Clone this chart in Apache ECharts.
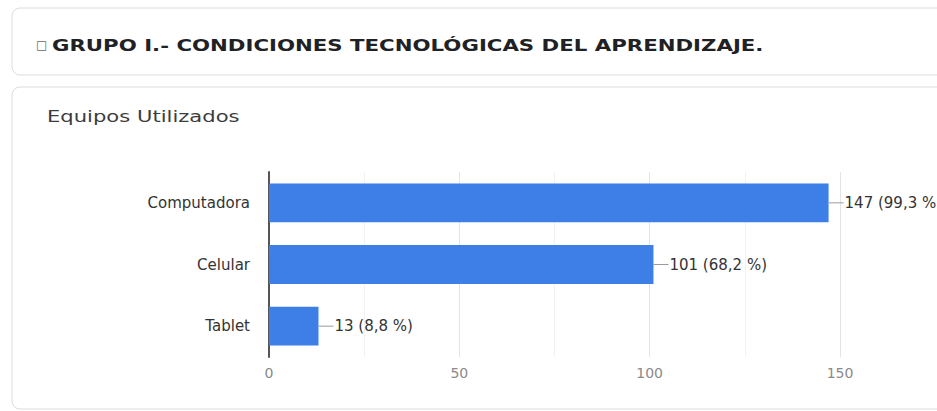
<!DOCTYPE html>
<html>
<head>
<meta charset="utf-8">
<script src="https://cdn.jsdelivr.net/npm/echarts@6/dist/echarts.min.js"></script>
<style>
  html, body { margin: 0; padding: 0; background: #ffffff; }
  #chart { width: 937px; height: 411px; }
</style>
</head>
<body>
<div id="chart"></div>
<script>
// ---- data ----
const headingMark = '\u25A1';
const heading = 'GRUPO I.- CONDICIONES TECNOLÓGICAS DEL APRENDIZAJE.';
const chartTitle = 'Equipos Utilizados';
const categories = ['Computadora', 'Celular', 'Tablet'];
const counts = [147, 101, 13];
const percents = ['99,3', '68,2', '8,8'];
const xTicks = [0, 50, 100, 150];

const chart = echarts.init(document.getElementById('chart'), null, { renderer: 'svg' });

// ECharts draws categories bottom-to-top on a y category axis; reverse for top-to-bottom order
const catsDisplay = categories.slice().reverse();
const seriesData = counts.map((v, i) => ({ value: v, pct: percents[i], name: categories[i] })).reverse();

chart.setOption({
  animation: false,
  backgroundColor: '#ffffff',
  graphic: [
    { type: 'rect', shape: { x: 12, y: 8, width: 960, height: 67, r: 8 },
      style: { fill: '#ffffff', stroke: '#dcdcdc', lineWidth: 1 }, z: -10 },
    { type: 'rect', shape: { x: 12, y: 87, width: 960, height: 322, r: 8 },
      style: { fill: '#ffffff', stroke: '#dcdcdc', lineWidth: 1 }, z: -10 },
    { type: 'text', x: 36, y: 45,
      style: { text: headingMark, font: '12px "DejaVu Sans"', fill: '#666666', verticalAlign: 'middle' } },
    { type: 'text', x: 52, y: 45, scaleX: 1.33,
      style: { text: heading, font: 'bold 16px "DejaVu Sans"', fill: '#202124', verticalAlign: 'middle' } },
    { type: 'text', x: 47, y: 116, scaleX: 1.32,
      style: { text: chartTitle, font: '16px "DejaVu Sans"', fill: '#3c3c3c', verticalAlign: 'middle' } }
  ],
  grid: { left: 269, right: 97, top: 172, bottom: 54, containLabel: false },
  xAxis: {
    type: 'value', min: xTicks[0], max: xTicks[xTicks.length - 1], interval: 50,
    axisLine: { show: false }, axisTick: { show: false },
    axisLabel: { color: '#8a8a8a', fontFamily: 'DejaVu Sans', fontSize: 14, margin: 9 },
    splitLine: { show: true, lineStyle: { color: '#e4e4e4', width: 1 } },
    minorTick: { show: false, splitNumber: 2 },
    minorSplitLine: { show: true, lineStyle: { color: '#f2f2f2', width: 1 } }
  },
  yAxis: {
    type: 'category', data: catsDisplay,
    axisLine: { show: true, lineStyle: { color: '#555555', width: 2 } },
    axisTick: { show: false },
    axisLabel: { color: '#333333', fontFamily: 'DejaVu Sans', fontSize: 15, margin: 19 }
  },
  series: [{
    type: 'bar',
    data: seriesData,
    barCategoryGap: '37%',
    itemStyle: { color: '#3d7fe6' },
    label: {
      show: true, position: 'right', distance: 0,
      formatter: p => '{l|}{t|' + p.data.value + ' (' + p.data.pct + ' %)}',
      rich: {
        l: { width: 15, height: 1, backgroundColor: '#9a9a9a' },
        t: { color: '#333333', fontFamily: 'DejaVu Sans', fontSize: 15, padding: [0, 0, 0, 1] }
      }
    }
  }]
});
</script>
</body>
</html>
